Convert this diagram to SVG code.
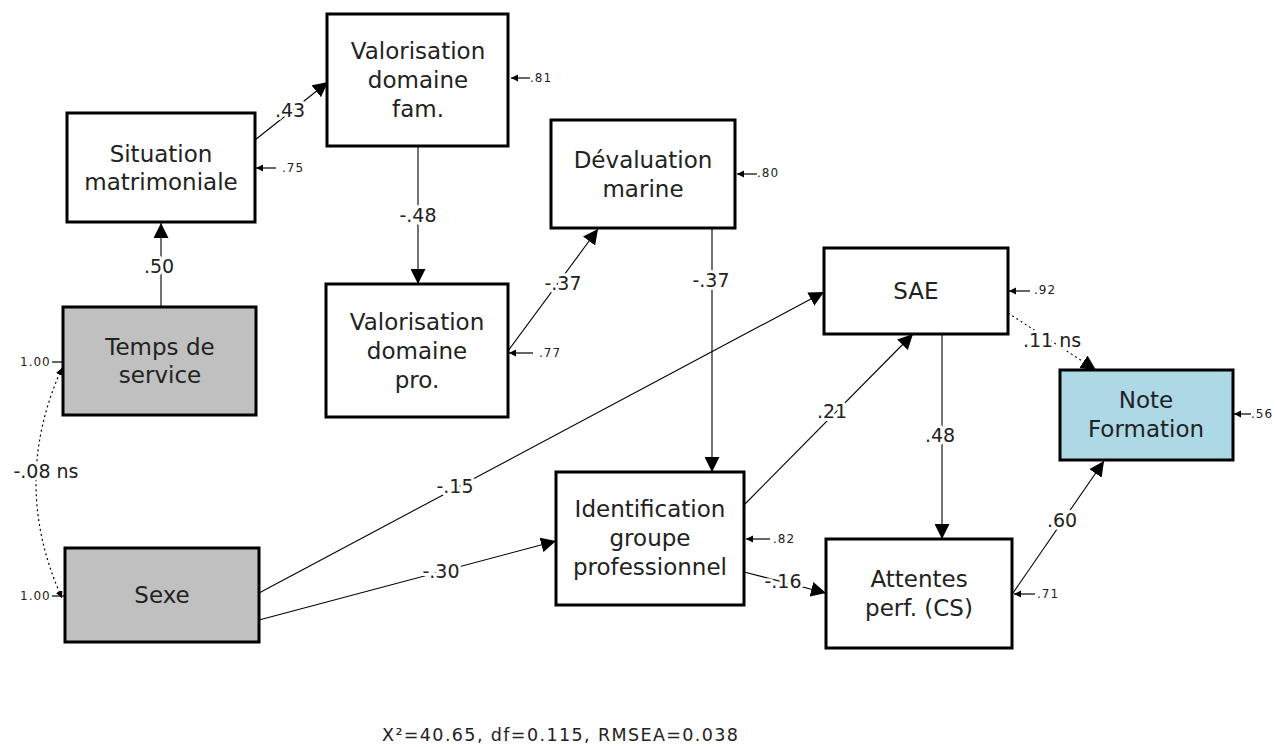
<svg xmlns="http://www.w3.org/2000/svg" width="1275" height="747" viewBox="0 0 1275 747">
  <style>
    .box { stroke: #000; stroke-width: 3; fill: #fff; }
    .exo { fill: #c0c0c0; }
    .dv { fill: #add8e6; }
    .nt { font-family: "DejaVu Sans", "Liberation Sans", sans-serif; font-size: 23px; fill: #222; text-anchor: middle; }
    .path { stroke: #000; stroke-width: 1.1; fill: none; marker-end: url(#head); }
    .dot { stroke-dasharray: 2 3; }
    .res { stroke: #000; stroke-width: 1.2; fill: none; marker-end: url(#small); }
    .el { font-family: "DejaVu Sans", "Liberation Sans", sans-serif; font-size: 19px; fill: #222; text-anchor: middle; stroke: #fff; stroke-width: 6; paint-order: stroke; stroke-linejoin: round; }
    .rl { font-family: "DejaVu Sans", "Liberation Sans", sans-serif; font-size: 12px; fill: #222; letter-spacing: 1px; }
    .fit { font-family: "DejaVu Sans", "Liberation Sans", sans-serif; font-size: 17.5px; fill: #222; }
  </style>
  <defs>
    <marker id="head" markerUnits="userSpaceOnUse" markerWidth="16" markerHeight="15" refX="15" refY="7.5" orient="auto-start-reverse">
      <path d="M0,0 L15,7.5 L0,15 z" fill="#000"/>
    </marker>
    <marker id="small" markerUnits="userSpaceOnUse" markerWidth="8" markerHeight="8" refX="7" refY="3.5" orient="auto-start-reverse">
      <path d="M0,0 L7,3.5 L0,7 z" fill="#000"/>
    </marker>
  </defs>

  <!-- paths between variables -->
  <g id="connectors">
    <line class="path" x1="161" y1="307" x2="161" y2="223"/>
    <line class="path" x1="255" y1="140" x2="328" y2="82"/>
    <line class="path" x1="418" y1="146" x2="418" y2="284"/>
    <line class="path" x1="508" y1="351" x2="598" y2="229"/>
    <line class="path" x1="712" y1="228" x2="712" y2="472"/>
    <line class="path" x1="259" y1="593" x2="824" y2="292"/>
    <line class="path" x1="259" y1="620" x2="556" y2="541"/>
    <line class="path" x1="744" y1="505" x2="913" y2="334"/>
    <line class="path" x1="942" y1="334" x2="942" y2="539"/>
    <line class="path dot" x1="1008" y1="313" x2="1096" y2="370"/>
    <line class="path" x1="744" y1="572" x2="826" y2="593"/>
    <line class="path" x1="1013" y1="593" x2="1104" y2="461"/>
    <path class="res dot" d="M62,368 Q10,483 62,598" style="marker-start: url(#small)"/>

    <!-- residual variances -->
    <line class="res" x1="276" y1="168" x2="256" y2="168"/>
    <line class="res" x1="530" y1="78" x2="511" y2="78"/>
    <line class="res" x1="757" y1="174" x2="737" y2="174"/>
    <line class="res" x1="533" y1="353" x2="509" y2="353"/>
    <line class="res" x1="1030" y1="291" x2="1009" y2="291"/>
    <line class="res" x1="770" y1="539" x2="746" y2="539"/>
    <line class="res" x1="1035" y1="594" x2="1014" y2="594"/>
    <line class="res" x1="1251" y1="414" x2="1234" y2="414"/>
    <line stroke="#000" stroke-width="1.2" x1="52" y1="362" x2="63" y2="362"/>
    <line stroke="#000" stroke-width="1.2" x1="52" y1="596" x2="64" y2="596"/>

    <!-- path coefficients -->
    <text class="el" x="159" y="273">.50</text>
    <text class="el" x="290" y="117">.43</text>
    <text class="el" x="418" y="222">-.48</text>
    <text class="el" x="563" y="290">-.37</text>
    <text class="el" x="711" y="287">-.37</text>
    <text class="el" x="455" y="493">-.15</text>
    <text class="el" x="441" y="578">-.30</text>
    <text class="el" x="832" y="418">.21</text>
    <text class="el" x="940" y="442">.48</text>
    <text class="el" x="1052" y="347">.11 ns</text>
    <text class="el" x="783" y="588">-.16</text>
    <text class="el" x="1062" y="527">.60</text>
    <text class="el" x="46" y="478">-.08 ns</text>

    <text class="rl" x="282" y="172">.75</text>
    <text class="rl" x="530" y="82">.81</text>
    <text class="rl" x="757" y="177">.80</text>
    <text class="rl" x="539" y="357">.77</text>
    <text class="rl" x="1034" y="294">.92</text>
    <text class="rl" x="773" y="543">.82</text>
    <text class="rl" x="1037" y="598">.71</text>
    <text class="rl" x="1251" y="418">.56</text>
    <text class="rl" x="20" y="366">1.00</text>
    <text class="rl" x="20" y="600">1.00</text>
  </g>

  <g id="situation">
    <rect class="box" x="67" y="113" width="188" height="109"/>
    <text class="nt" x="161" y="162">Situation</text>
    <text class="nt" x="161" y="190">matrimoniale</text>
  </g>
  <g id="temps">
    <rect class="box exo" x="63" y="307" width="193" height="108"/>
    <text class="nt" x="160" y="355">Temps de</text>
    <text class="nt" x="160" y="383">service</text>
  </g>
  <g id="sexe">
    <rect class="box exo" x="65" y="548" width="194" height="94"/>
    <text class="nt" x="162" y="603">Sexe</text>
  </g>
  <g id="valo-fam">
    <rect class="box" x="327" y="14" width="181" height="132"/>
    <text class="nt" x="418" y="59">Valorisation</text>
    <text class="nt" x="418" y="88">domaine</text>
    <text class="nt" x="418" y="117">fam.</text>
  </g>
  <g id="valo-pro">
    <rect class="box" x="326" y="284" width="182" height="133"/>
    <text class="nt" x="417" y="330">Valorisation</text>
    <text class="nt" x="417" y="359">domaine</text>
    <text class="nt" x="417" y="388">pro.</text>
  </g>
  <g id="devaluation">
    <rect class="box" x="551" y="120" width="184" height="108"/>
    <text class="nt" x="643" y="168">Dévaluation</text>
    <text class="nt" x="643" y="197">marine</text>
  </g>
  <g id="sae">
    <rect class="box" x="824" y="248" width="184" height="86"/>
    <text class="nt" x="916" y="299">SAE</text>
  </g>
  <g id="identification">
    <rect class="box" x="556" y="472" width="188" height="133"/>
    <text class="nt" x="650" y="517">Identification</text>
    <text class="nt" x="650" y="546">groupe</text>
    <text class="nt" x="650" y="575">professionnel</text>
  </g>
  <g id="attentes">
    <rect class="box" x="826" y="539" width="186" height="109"/>
    <text class="nt" x="919" y="587">Attentes</text>
    <text class="nt" x="919" y="616">perf. (CS)</text>
  </g>
  <g id="note">
    <rect class="box dv" x="1060" y="370" width="173" height="90"/>
    <text class="nt" x="1146" y="408">Note</text>
    <text class="nt" x="1146" y="437">Formation</text>
  </g>

  <text class="fit" x="382" y="741" textLength="356" lengthAdjust="spacing">X²=40.65, df=0.115, RMSEA=0.038</text>
</svg>
